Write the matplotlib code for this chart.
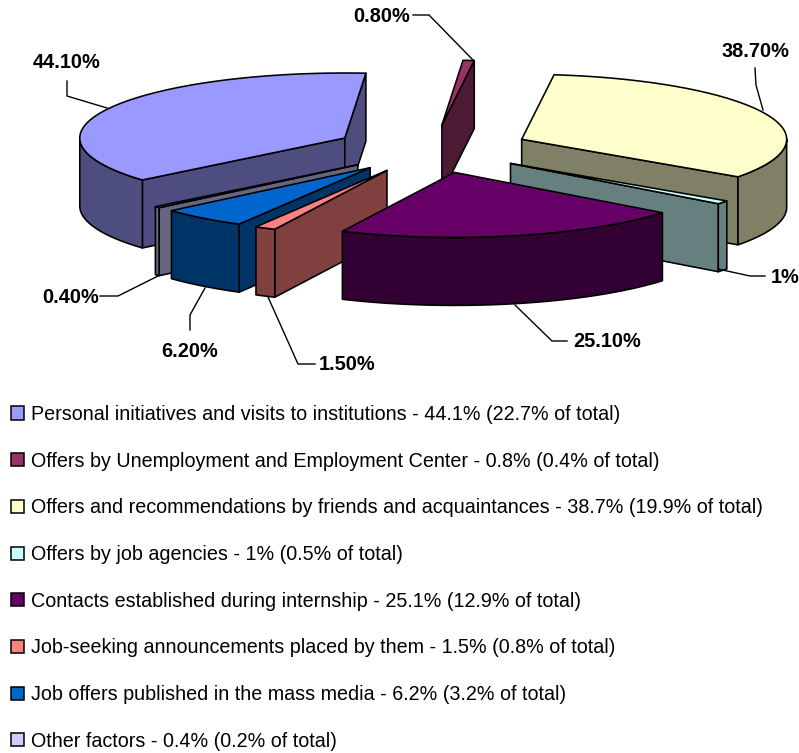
import numpy as np
import matplotlib
matplotlib.use("Agg")
import matplotlib.pyplot as plt
from matplotlib.patches import Patch

plt.rcParams['font.family'] = ['Liberation Sans', 'DejaVu Sans']

categories = [
    "Personal initiatives and visits to institutions",
    "Offers by Unemployment and Employment Center",
    "Offers and recommendations by friends and acquaintances",
    "Offers by job agencies",
    "Contacts established during internship",
    "Job-seeking announcements placed by them",
    "Job offers published in the mass media",
    "Other factors",
]
values = [44.1, 0.8, 38.7, 1, 25.1, 1.5, 6.2, 0.4]
of_total = [22.7, 0.4, 19.9, 0.5, 12.9, 0.8, 3.2, 0.2]
data_labels = ["44.10%", "0.80%", "38.70%", "1%", "25.10%", "1.50%", "6.20%", "0.40%"]
colors = ["#9999FF", "#993366", "#FFFFCC", "#CCFFFF", "#660066", "#FF8080", "#0066CC", "#CCCCFF"]

# label centre and leader polyline for each slice, in pixels
label_pos = [(67, 62), (382, 16), (755, 51), (785, 277), (607, 341), (347, 364), (190, 351), (71, 297)]
leaders = [
    [(67, 81), (67, 96), (107, 108)],
    [(413, 15), (429, 15), (473, 60)],
    [(755, 68), (756, 85), (763, 110)],
    [(765, 276), (750, 276), (718, 269)],
    [(567, 341), (552, 341), (515, 305)],
    [(315, 364), (298, 364), (268, 297)],
    [(190, 330), (190, 315), (205, 288)],
    [(100, 296), (118, 296), (160, 275)],
]

# projection of the tilted pie
CX, CY, A, B = 432, 149, 265, 65
DEPTH, EXPLODE, START = 68, 0.37, 229.8
LW = 1.15

fig = plt.figure(figsize=(7.99, 7.53), dpi=100)
ax = fig.add_axes([0, 0, 1, 1])
ax.set_xlim(0, 799)
ax.set_ylim(753, 0)
ax.axis("off")


def rim(theta, ox, oy):
    t = np.radians(theta)
    return ox + A * np.sin(t), oy - B * np.cos(t)


def darker(c):
    return tuple(0.5 * v for v in matplotlib.colors.to_rgb(c))


spans = np.array(values) / sum(values) * 360
starts = START + np.concatenate([[0], np.cumsum(spans)[:-1]])
slices = []
for th0, sp, col in zip(starts, spans, colors):
    mid = th0 + sp / 2
    ox, oy = CX + EXPLODE * (rim(mid, 0, 0)[0]), CY + EXPLODE * (rim(mid, 0, 0)[1])
    slices.append((oy, ox, th0, sp, col))

for oy, ox, th0, sp, col in sorted(slices, key=lambda s: s[0]):
    side = darker(col)
    style = dict(facecolor=side, edgecolor="black", linewidth=LW, joinstyle="round")
    th1 = th0 + sp
    # radial faces that look towards the viewer
    if np.sin(np.radians(th0)) < 0:
        x, y = rim(th0, ox, oy)
        ax.fill([ox, x, x, ox], [oy, y, y + DEPTH, oy + DEPTH], **style)
    if np.sin(np.radians(th1)) > 0:
        x, y = rim(th1, ox, oy)
        ax.fill([ox, x, x, ox], [oy, y, y + DEPTH, oy + DEPTH], **style)
    # outer wall: the part of the rim on the near side
    th = np.linspace(th0, th1, max(int(sp * 2), 4))
    near = th[np.cos(np.radians(th)) < 0]
    if len(near) > 1:
        x, y = rim(near, ox, oy)
        ax.fill(np.r_[x, x[::-1]], np.r_[y, y[::-1] + DEPTH], **style)
    # top face
    x, y = rim(th, ox, oy)
    ax.fill(np.r_[ox, x], np.r_[oy, y], facecolor=col, edgecolor="black",
            linewidth=LW, joinstyle="round")

for pts in leaders:
    xs, ys = zip(*pts)
    ax.plot(xs, ys, color="black", lw=1.0)
for txt, (x, y) in zip(data_labels, label_pos):
    ax.text(x, y, txt, ha="center", va="center", fontsize=14.4, fontweight="bold", color="black")

handles = [Patch(facecolor=c, edgecolor="black", linewidth=1.1) for c in colors]
labels = [f"{c} - {v:g}% ({t:g}% of total)" for c, v, t in zip(categories, values, of_total)]
ax.legend(handles, labels, loc="upper left", bbox_to_anchor=(11 / 799, 1 - 405 / 753),
          bbox_transform=fig.transFigure, frameon=False, fontsize=14.2, borderpad=0,
          borderaxespad=0, handlelength=0.65, handleheight=0.65, handletextpad=0.37,
          labelspacing=1.404, labelcolor="black")

fig.savefig("out.png", dpi=100)
